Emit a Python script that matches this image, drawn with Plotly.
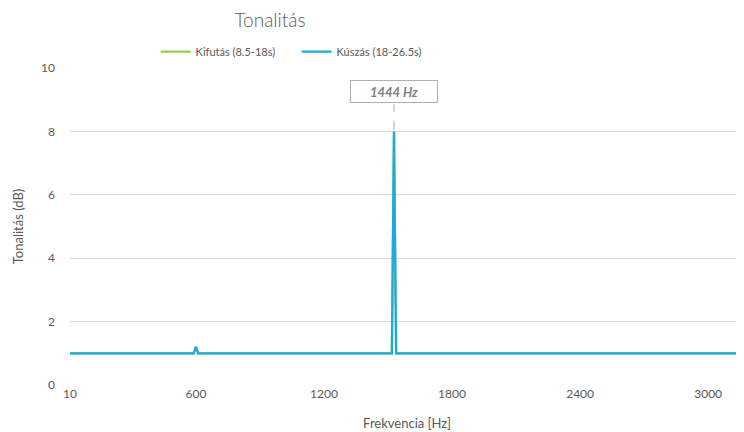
import plotly.graph_objects as go

# Data
freq_hz = [10, 590, 600, 610, 1518, 1528, 1538, 3168]
kifutas_db = [1.0, 1.0, 1.2, 1.0, 1.0, 8.0, 1.0, 1.0]
kuszas_db = [1.0, 1.0, 1.2, 1.0, 1.0, 8.0, 1.0, 1.0]
x_ticks = [10, 600, 1200, 1800, 2400, 3000]
y_ticks = [0, 2, 4, 6, 8, 10]
peak_label = "1444 Hz"
peak_x = 1528
peak_y = 8.0

FONT = "Lato, 'Open Sans', sans-serif"
GRAY = "#595959"

fig = go.Figure()
fig.add_trace(go.Scatter(x=freq_hz, y=kifutas_db, mode="lines", name="Kifutás (8.5-18s)",
                         line=dict(color="#92D050", width=2.25)))
fig.add_trace(go.Scatter(x=freq_hz, y=kuszas_db, mode="lines", name="Kúszás (18-26.5s)",
                         line=dict(color="#1FA9E1", width=2.25)))

fig.add_shape(type="line", x0=peak_x, x1=peak_x, y0=peak_y + 0.05, y1=8.85,
              line=dict(color="#A6A6A6", width=1, dash="dash"))
fig.add_annotation(x=peak_x, y=9.27, text="<b><i>" + peak_label + "</i></b>", showarrow=False,
                   font=dict(family=FONT, size=13, color="#7F7F7F"),
                   bgcolor="white", bordercolor="#B0B0B0", borderwidth=1,
                   width=82, height=17, borderpad=2)

# page body has an 8px margin, so the figure is sized/offset to fill the 744x432 window
fig.update_layout(
    width=736, height=424,
    margin=dict(l=62, r=0, t=60, b=47),
    paper_bgcolor="white", plot_bgcolor="white",
    font=dict(family=FONT, color=GRAY, size=12),
    title=dict(text="Tonalitás", x=262 / 736, xref="container", xanchor="center",
               y=1 - 12 / 424, yref="container", yanchor="middle",
               font=dict(size=19, color=GRAY, family=FONT, weight=300)),
    legend=dict(orientation="h", x=0.127, xanchor="left", y=1.052, yanchor="middle",
                font=dict(size=11, color=GRAY, family=FONT), itemwidth=30,
                entrywidth=96, entrywidthmode="pixels",
                bgcolor="rgba(0,0,0,0)"),
    showlegend=True,
)
fig.update_xaxes(range=[10, 3168], tickvals=x_ticks, ticktext=[str(v) for v in x_ticks],
                 showgrid=False, zeroline=False, showline=False,
                 tickfont=dict(size=12, color=GRAY),
                 title=dict(text="Frekvencia [Hz]", font=dict(size=13, color=GRAY), standoff=18))
fig.update_yaxes(range=[0, 10], tickvals=y_ticks, showgrid=True, gridcolor="#D9D9D9",
                 gridwidth=1, zeroline=False, showline=False, ticklabelstandoff=14,
                 tickfont=dict(size=12, color=GRAY),
                 title=dict(text="Tonalitás (dB)", font=dict(size=13, color=GRAY), standoff=14))

fig.write_html("out.html")
